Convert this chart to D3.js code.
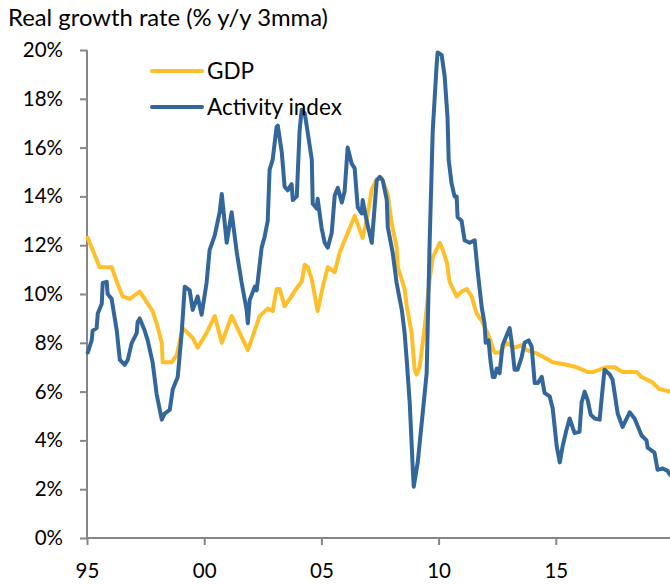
<!DOCTYPE html>
<html>
<head>
<meta charset="utf-8">
<script src="https://cdn.jsdelivr.net/npm/d3@7"></script>
<style>
  body { margin: 0; background: #fff; }
  text { font-family: Lato, "Noto Sans", sans-serif; }
</style>
</head>
<body>
<div id="chart"></div>
<script>
// Real GDP growth (quarterly) - decimal years
const gdpYears = [1995.03, 1995.33, 1995.54, 1996.05, 1996.31, 1996.52, 1996.82, 1997.25, 1997.46, 1997.80,
  1997.97, 1998.19, 1998.23, 1998.61, 1998.83, 1999.08, 1999.30, 1999.51, 1999.72, 2000.10,
  2000.45, 2000.75, 2001.17, 2001.86, 2002.37, 2002.71, 2002.92, 2003.09, 2003.22, 2003.43,
  2003.65, 2003.99, 2004.16, 2004.29, 2004.42, 2004.59, 2004.84, 2005.06, 2005.27, 2005.57,
  2005.78, 2006.42, 2006.76, 2006.93, 2007.15, 2007.36, 2007.57, 2007.83, 2008.00, 2008.21,
  2008.26, 2008.55, 2008.64, 2008.85, 2008.98, 2009.06, 2009.19, 2009.40, 2009.62, 2009.75,
  2010.05, 2010.18, 2010.35, 2010.47, 2010.77, 2010.98, 2011.20, 2011.41, 2011.62, 2011.84,
  2012.09, 2012.39, 2012.60, 2012.90, 2013.24, 2013.54, 2013.76, 2014.10, 2014.52, 2014.87,
  2015.46, 2015.89, 2016.36, 2016.57, 2016.87, 2017.17, 2017.51, 2017.85, 2018.45, 2018.66,
  2019.09, 2019.43, 2019.86];
const gdpValues = [12.3, 11.6, 11.1, 11.1, 10.4, 9.9, 9.8, 10.1, 9.8, 9.3,
  8.8, 8.0, 7.2, 7.2, 7.5, 8.6, 8.4, 8.2, 7.8, 8.4,
  9.1, 8.0, 9.1, 7.7, 9.1, 9.4, 9.3, 10.2, 10.2, 9.5,
  9.8, 10.3, 10.5, 11.2, 11.1, 10.6, 9.3, 10.3, 11.1, 10.9,
  11.7, 13.2, 12.3, 13.0, 14.3, 14.7, 14.75, 14.1, 12.9, 11.9,
  11.1, 10.2, 9.5, 8.4, 6.9, 6.7, 7.0, 8.6, 10.6, 11.5,
  12.1, 11.8, 11.3, 10.5, 9.9, 10.1, 10.2, 9.9, 9.2, 8.9,
  8.4, 7.6, 7.6, 8.0, 7.8, 7.9, 7.7, 7.6, 7.4, 7.2,
  7.1, 7.0, 6.8, 6.8, 6.9, 7.0, 7.0, 6.8, 6.8, 6.6,
  6.4, 6.1, 6.0];

// Activity index (monthly)
const activityYears = [1995.03, 1995.20, 1995.24, 1995.41, 1995.46, 1995.63, 1995.67, 1995.84, 1995.88, 1996.05,
  1996.27, 1996.40, 1996.61, 1996.74, 1996.91, 1997.12, 1997.16, 1997.25, 1997.46, 1997.59,
  1997.80, 1997.97, 1998.19, 1998.31, 1998.53, 1998.66, 1998.87, 1999.04, 1999.17, 1999.38,
  1999.51, 1999.72, 1999.89, 2000.10, 2000.23, 2000.45, 2000.66, 2000.75, 2000.96, 2001.17,
  2001.39, 2001.60, 2001.81, 2001.86, 2001.94, 2002.16, 2002.24, 2002.45, 2002.58, 2002.71,
  2002.79, 2002.92, 2003.09, 2003.14, 2003.31, 2003.43, 2003.56, 2003.73, 2003.78, 2003.95,
  2004.07, 2004.16, 2004.29, 2004.42, 2004.59, 2004.63, 2004.80, 2004.84, 2005.01, 2005.14,
  2005.27, 2005.44, 2005.57, 2005.70, 2005.87, 2005.99, 2006.12, 2006.29, 2006.42, 2006.55,
  2006.72, 2006.76, 2006.93, 2007.15, 2007.36, 2007.49, 2007.62, 2007.79, 2007.83, 2008.04,
  2008.21, 2008.43, 2008.55, 2008.64, 2008.77, 2008.90, 2008.94, 2009.11, 2009.32, 2009.49,
  2009.62, 2009.75, 2009.92, 2009.96, 2010.13, 2010.26, 2010.38, 2010.43, 2010.55, 2010.68,
  2010.77, 2010.81, 2010.98, 2011.02, 2011.11, 2011.32, 2011.54, 2011.66, 2011.84, 2011.96,
  2012.01, 2012.13, 2012.22, 2012.31, 2012.39, 2012.48, 2012.60, 2012.73, 2012.90, 2013.03,
  2013.12, 2013.24, 2013.37, 2013.54, 2013.67, 2013.84, 2013.97, 2014.10, 2014.23, 2014.40,
  2014.52, 2014.74, 2014.87, 2015.04, 2015.17, 2015.29, 2015.46, 2015.59, 2015.80, 2016.01,
  2016.10, 2016.23, 2016.36, 2016.49, 2016.66, 2016.87, 2016.99, 2017.08, 2017.30, 2017.42,
  2017.64, 2017.85, 2018.15, 2018.36, 2018.66, 2018.87, 2018.92, 2019.21, 2019.34, 2019.56,
  2019.77, 2019.86];
const activityValues = [7.6, 8.1, 8.5, 8.6, 9.2, 9.6, 10.45, 10.5, 10.0, 9.8,
  8.5, 7.3, 7.1, 7.3, 8.0, 8.4, 8.85, 9.0, 8.5, 8.1,
  7.2, 5.9, 4.85, 5.1, 5.25, 6.1, 6.6, 8.4, 10.3, 10.15,
  9.35, 9.9, 9.15, 10.45, 11.8, 12.4, 13.35, 14.1, 12.1, 13.35,
  11.7, 10.45, 9.35, 8.8, 9.75, 10.3, 10.15, 11.9, 12.35, 13.0,
  15.1, 15.5, 16.85, 16.9, 15.8, 14.4, 14.25, 14.5, 13.85, 14.0,
  16.7, 17.55, 17.4, 16.6, 15.5, 13.7, 13.5, 13.9, 12.7, 12.1,
  11.9, 12.5, 14.05, 14.35, 13.75, 14.2, 16.0, 15.35, 15.15, 13.55,
  13.3, 13.85, 13.0, 12.1, 14.65, 14.8, 14.65, 13.85, 12.75, 11.7,
  10.45, 9.35, 8.4, 7.3, 5.5, 2.8, 2.1, 3.1, 5.1, 6.75,
  12.2, 16.7, 19.45, 19.9, 19.8, 18.9, 17.25, 15.5, 14.55, 14.0,
  14.0, 13.15, 13.0, 12.75, 12.2, 12.1, 12.2, 11.0, 9.45, 8.8,
  8.0, 8.1, 7.2, 6.6, 6.6, 6.95, 6.75, 7.9, 8.3, 8.6,
  8.0, 6.9, 6.9, 7.4, 8.0, 8.1, 7.85, 6.35, 6.35, 6.6,
  5.95, 5.8, 5.3, 3.75, 3.1, 3.75, 4.45, 4.9, 4.3, 4.35,
  5.55, 6.0, 5.65, 5.05, 4.9, 4.85, 6.05, 6.9, 6.7, 6.5,
  5.1, 4.55, 5.15, 4.9, 4.2, 4.0, 3.7, 3.5, 2.8, 2.85,
  2.75, 2.6];

const xTickYears = [1995, 2000, 2005, 2010, 2015];
const xTickLabels = ["95", "00", "05", "10", "15"];
const yTicks = [0, 2, 4, 6, 8, 10, 12, 14, 16, 18, 20];

const seriesNames = ["GDP", "Activity index"];
const seriesColors = ["#FFBF2A", "#33669A"];

const width = 670;
const height = 585;
const margin = { top: 50, right: 0, bottom: 47, left: 87 };
const axisColor = "#868686";

const svg = d3.select("#chart")
  .append("svg")
  .attr("width", width)
  .attr("height", height);

const x = d3.scaleLinear()
  .domain([1995, 2020])
  .range([margin.left, margin.left + 25 * 23.44]);

const y = d3.scaleLinear()
  .domain([0, 20])
  .range([height - margin.bottom, margin.top]);

// title
svg.append("text")
  .attr("x", 8)
  .attr("y", 26)
  .attr("font-size", 22.5)
  .attr("textLength", 320)
  .attr("lengthAdjust", "spacingAndGlyphs")
  .attr("fill", "#000")
  .text("Real growth rate (% y/y 3mma)");

// y axis
const yAxis = svg.append("g")
  .attr("transform", `translate(${margin.left},0)`)
  .call(d3.axisLeft(y).tickValues(yTicks).tickSize(7).tickPadding(17).tickFormat(d => d + "%"));

// x axis
const xAxis = svg.append("g")
  .attr("transform", `translate(0,${height - margin.bottom})`)
  .call(d3.axisBottom(x).tickValues(xTickYears).tickSize(7).tickPadding(18)
    .tickFormat((d, i) => xTickLabels[i]));

[yAxis, xAxis].forEach(g => {
  g.select(".domain").attr("stroke", axisColor).attr("stroke-width", 2);
  g.selectAll(".tick line").attr("stroke", axisColor).attr("stroke-width", 2);
  g.selectAll(".tick text").attr("font-size", 20.5).attr("fill", "#000");
});
// axis line runs to the right edge
xAxis.select(".domain").attr("d", `M${margin.left},0H${width}`);
yAxis.select(".domain").attr("d", `M0,${y(20)}V${y(0)}`);

const line = d3.line()
  .x(d => x(d[0]))
  .y(d => y(d[1]));

const gdp = d3.zip(gdpYears, gdpValues);
const activity = d3.zip(activityYears, activityValues);

svg.selectAll(".series")
  .data([gdp, activity])
  .join("path")
  .attr("class", "series")
  .attr("d", line)
  .attr("fill", "none")
  .attr("stroke", (d, i) => seriesColors[i])
  .attr("stroke-width", 4)
  .attr("stroke-linejoin", "round")
  .attr("stroke-linecap", "round");

// legend
const legend = svg.append("g")
  .selectAll("g")
  .data(seriesNames)
  .join("g")
  .attr("transform", (d, i) => `translate(152,${71 + i * 36})`);

legend.append("line")
  .attr("x1", 0)
  .attr("x2", 50)
  .attr("stroke", (d, i) => seriesColors[i])
  .attr("stroke-width", 4)
  .attr("stroke-linecap", "round");

legend.append("text")
  .attr("x", 55)
  .attr("dy", "0.35em")
  .attr("font-size", 22.5)
  .attr("fill", "#000")
  .text(d => d);
</script>
</body>
</html>
